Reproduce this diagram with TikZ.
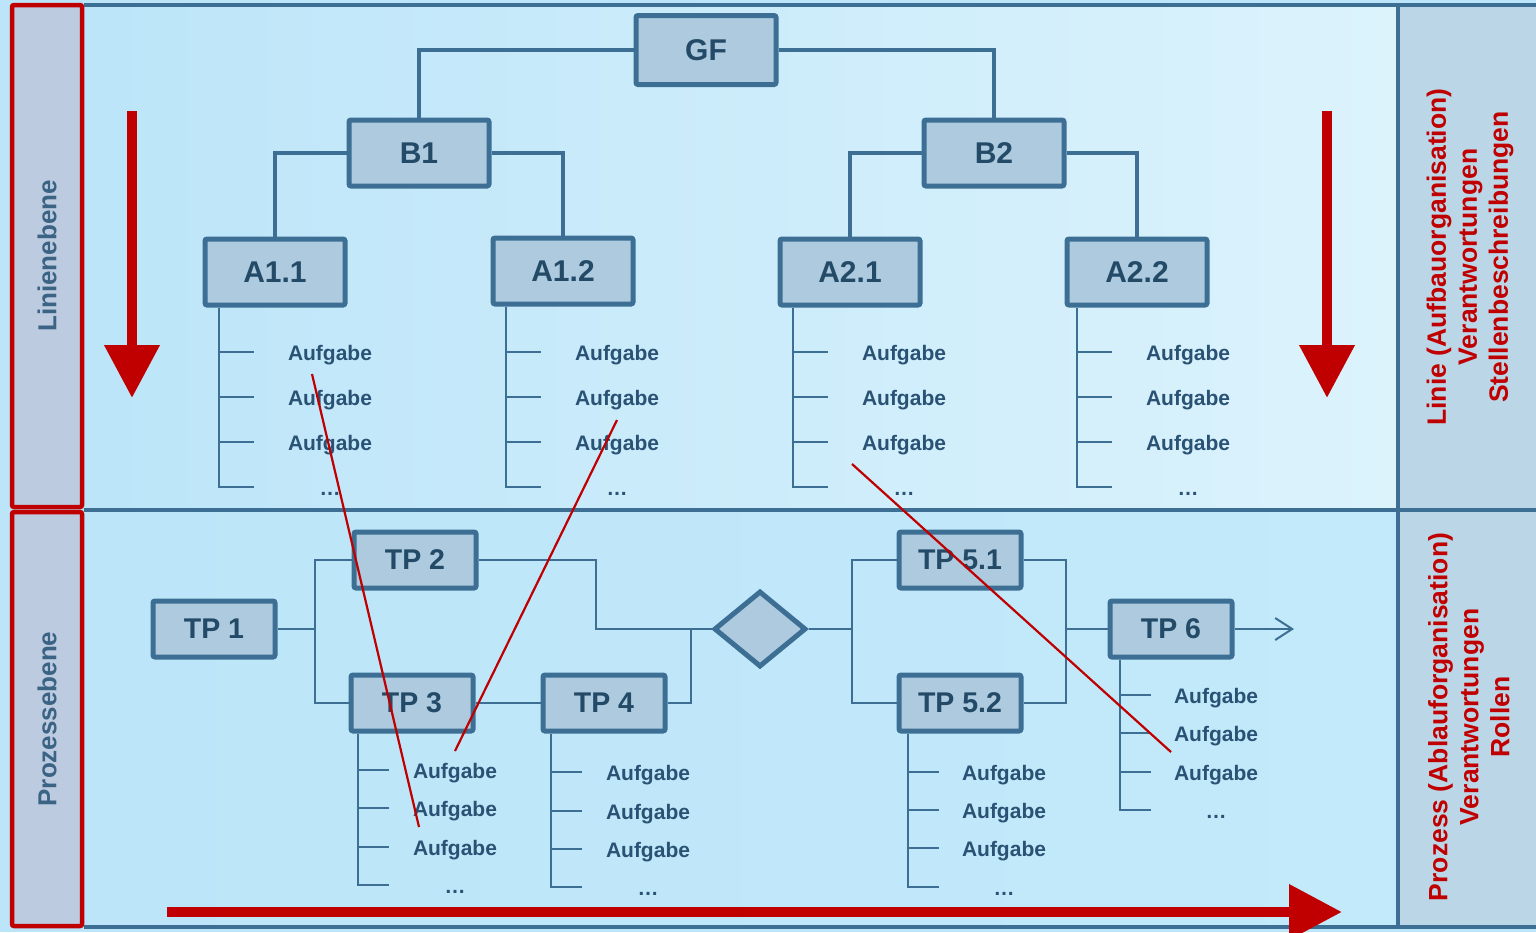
\documentclass[tikz,border=0pt]{standalone}
\usepackage{fontspec}
\setmainfont{Liberation Sans}
\usetikzlibrary{arrows.meta,shapes.geometric}

\definecolor{framecol}{HTML}{3D6F94}
\definecolor{boxfill}{HTML}{ADCADE}
\definecolor{boxtext}{HTML}{234A67}
\definecolor{tasktext}{HTML}{2A5274}
\definecolor{redmark}{HTML}{C00000}
\definecolor{sidefill}{HTML}{BCCBE0}
\definecolor{rightfill}{HTML}{BAD6E7}
\definecolor{levelcol}{HTML}{3B6384}
\definecolor{skyA}{HTML}{BCE5F9}
\definecolor{skyB}{HTML}{DCF3FC}
\definecolor{skyC}{HTML}{ACD6F0}
\definecolor{skyD}{HTML}{C3EAFA}

\pgfdeclarelayer{panels}
\pgfdeclarelayer{links}
\pgfsetlayers{panels,links,main}

% one list of tasks hanging below a box:
% #1 box, #2 spine x, #3-#5 item rows, #6 last row, #7 text x, #8 tick length
\newcommand\tasklist[8]{%
  \coordinate (#1-s) at (#2,#6);
  \draw[taskline] (#1.south -| #1-s) -- (#1-s) -- ++(#8,0);
  \foreach \yy/\k in {#3/1,#4/2,#5/3}{
    \draw[taskline] (#2,\yy) -- ++(#8,0);
    \node[aufg] (#1-t\k) at (#7,\yy+8) {Aufgabe};
  }
  \node[aufg] (#1-d) at (#7,#6+8) {\dots};
}

\begin{document}
\begin{tikzpicture}[x=1pt,y=-1pt,
  orgbox/.style={draw=framecol, fill=boxfill, line width=5pt, rounded corners=2pt,
    minimum width=140, minimum height=66, inner sep=0pt, text=boxtext,
    font=\bfseries\fontsize{30}{30}\selectfont},
  procbox/.style={orgbox, minimum width=122, minimum height=56,
    font=\bfseries\fontsize{28.5}{28.5}\selectfont},
  orgline/.style={draw=framecol, line width=4pt},
  taskline/.style={draw=framecol, line width=2.8pt},
  procline/.style={draw=framecol, line width=2pt},
  aufg/.style={anchor=base, inner sep=0pt, text=tasktext,
    font=\bfseries\fontsize{21}{21}\selectfont},
  frameline/.style={draw=framecol, line width=4.5pt},
  levelbox/.style={draw=redmark, fill=sidefill, line width=4.5pt, rounded corners=2pt},
  leveltext/.style={rotate=90, text=levelcol, font=\bfseries\fontsize{26}{26}\selectfont},
  sidetext/.style={rotate=90, align=center, text=redmark,
    font=\bfseries\fontsize{26.5}{31}\selectfont},
  bigarrow/.style={draw=redmark, line width=10.5pt,
    -{Triangle[length=53pt,width=53pt]}},
  redline/.style={draw=redmark, line width=2.2pt}
]
\clip (0,0) rectangle (1536,932);

% background panels and frame
\begin{pgfonlayer}{panels}
\fill[skyA] (0,0) rectangle (1536,932);
\shade[left color=skyA, right color=skyB] (84,5) rectangle (1398,510);
\shade[left color=skyA, middle color=skyC, right color=skyD] (84,510) rectangle (1398,927);
\fill[rightfill] (1398,5) rectangle (1536,927);
\draw[frameline] (84,5) -- (1536,5);
\draw[frameline] (84,510) -- (1536,510);
\draw[frameline] (84,927) -- (1536,927);
\draw[frameline] (1398,5) -- (1398,927);
\end{pgfonlayer}

% level captions on the left
\draw[levelbox] (12,5) rectangle (82,507);
\draw[levelbox] (12,512) rectangle (82,926);
\node[leveltext] (linie) at (47,256) {Linienebene};
\node[leveltext] (prozess) at (47,719) {Prozessebene};

% descriptions on the right
\node[sidetext] (linieinfo) at (1470,257)
  {Linie (Aufbauorganisation)\\Verantwortungen\\Stellenbeschreibungen};
\node[sidetext] (prozessinfo) at (1469,717)
  {Prozess (Ablauforganisation)\\Verantwortungen\\Rollen};

% line organisation
\node[orgbox, minimum height=69] (gf) at (706,50) {GF};
\node[orgbox] (b1) at (419,153) {B1};
\node[orgbox] (b2) at (994,153) {B2};
\node[orgbox] (a11) at (275,272) {A1.1};
\node[orgbox] (a12) at (563,271) {A1.2};
\node[orgbox] (a21) at (850,272) {A2.1};
\node[orgbox] (a22) at (1137,272) {A2.2};

\begin{pgfonlayer}{links}
\draw[orgline] (gf.west) -| (b1.north);
\draw[orgline] (gf.east) -| (b2.north);
\draw[orgline] (b1.west) -| (a11.north);
\draw[orgline] (b1.east) -| (a12.north);
\draw[orgline] (b2.west) -| (a21.north);
\draw[orgline] (b2.east) -| (a22.north);
\end{pgfonlayer}

\tasklist{a11}{219}{352}{397}{442}{487}{330}{35}
\tasklist{a12}{506}{352}{397}{442}{487}{617}{35}
\tasklist{a21}{793}{352}{397}{442}{487}{904}{35}
\tasklist{a22}{1077}{352}{397}{442}{487}{1188}{35}

% process flow
\node[procbox] (tp1) at (214,629) {TP 1};
\node[procbox] (tp2) at (415,560) {TP 2};
\node[procbox] (tp3) at (412,703) {TP 3};
\node[procbox] (tp4) at (604,703) {TP 4};
\node[diamond, draw=framecol, fill=boxfill, line width=5pt, inner sep=0pt,
  minimum width=92, minimum height=76] (dia) at (760,629) {};
\node[procbox] (tp5a) at (960,560) {TP 5.1};
\node[procbox] (tp5b) at (960,703) {TP 5.2};
\node[procbox] (tp6) at (1171,629) {TP 6};

\coordinate (j1) at (315,629);
\coordinate (j2) at (596,629);
\coordinate (j3) at (691,629);
\coordinate (j4) at (852,629);
\coordinate (j5) at (1066,629);
\coordinate (out) at (1294,629);

\begin{pgfonlayer}{links}
\draw[procline] (tp1.east) -- (j1);
\draw[procline] (tp2.west) -| (j1) |- (tp3.west);
\draw[procline] (tp2.east) -| (j2) -- (dia.west);
\draw[procline] (tp3.east) -- (tp4.west);
\draw[procline] (tp4.east) -| (j3);
\draw[procline] (dia.east) -- (j4);
\draw[procline] (tp5a.west) -| (j4) |- (tp5b.west);
\draw[procline] (tp5a.east) -| (j5) |- (tp5b.east);
\draw[procline] (j5) -- (tp6.west);
\end{pgfonlayer}
\draw[procline, -{Straight Barb[length=17pt,width=22pt]}] (tp6.east) -- (out);

\tasklist{tp3}{358}{770}{808}{847}{885}{455}{31}
\tasklist{tp4}{551}{772}{811}{849}{887}{648}{31}
\tasklist{tp5b}{908}{772}{810}{848}{887}{1004}{31}
\tasklist{tp6}{1120}{695}{733}{772}{810}{1216}{31}

% direction arrows
\coordinate (dl1) at (132,111);  \coordinate (dl2) at (132,398);
\coordinate (dr1) at (1327,111); \coordinate (dr2) at (1327,398);
\coordinate (h1) at (167,912);   \coordinate (h2) at (1342,912);
\draw[bigarrow] (dl1) -- (dl2);
\draw[bigarrow] (dr1) -- (dr2);
\draw[bigarrow] (h1) -- (h2);

% links between tasks of both levels
\coordinate (r1a) at (312,374); \coordinate (r1b) at (419,827);
\coordinate (r2a) at (617,420); \coordinate (r2b) at (455,751);
\coordinate (r3a) at (852,464); \coordinate (r3b) at (1171,752);
\draw[redline] (r1a) -- (r1b);
\draw[redline] (r2a) -- (r2b);
\draw[redline] (r3a) -- (r3b);
\end{tikzpicture}
\end{document}
